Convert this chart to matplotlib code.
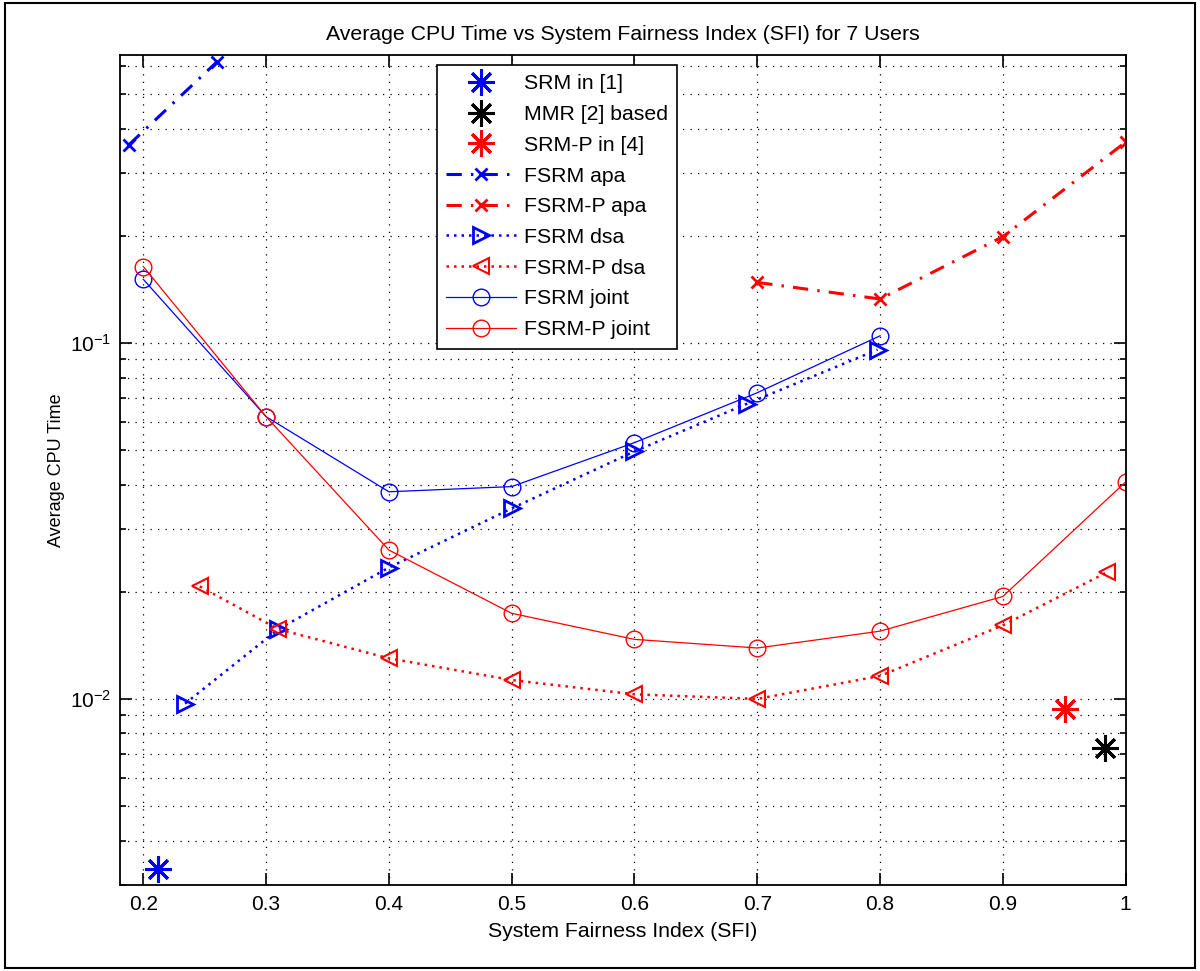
import matplotlib
matplotlib.use("Agg")
import matplotlib.pyplot as plt
from matplotlib.patches import Rectangle
from matplotlib.ticker import LogLocator, NullFormatter, FixedLocator

plt.rcParams['font.family'] = ['Liberation Sans', 'DejaVu Sans']

# ---- data ----
srm_x = [0.212]
srm_y = [0.00333]
mmr_x = [0.983]
mmr_y = [0.00729]
srmp_x = [0.951]
srmp_y = [0.00937]

fsrm_apa_x = [0.188, 0.26]
fsrm_apa_y = [0.360, 0.617]
fsrmp_apa_x = [0.70, 0.80, 0.90, 1.00]
fsrmp_apa_y = [0.148, 0.133, 0.199, 0.367]

fsrm_dsa_x = [0.234, 0.31, 0.40, 0.50, 0.60, 0.692, 0.798]
fsrm_dsa_y = [0.0097, 0.0157, 0.0234, 0.0343, 0.0496, 0.0676, 0.0958]
fsrmp_dsa_x = [0.246, 0.31, 0.40, 0.50, 0.60, 0.70, 0.80, 0.90, 0.985]
fsrmp_dsa_y = [0.0207, 0.0157, 0.0130, 0.0113, 0.0103, 0.0100, 0.0116, 0.0161, 0.0227]

fsrm_joint_x = [0.2, 0.3, 0.4, 0.5, 0.6, 0.7, 0.8]
fsrm_joint_y = [0.151, 0.0621, 0.0382, 0.0395, 0.0525, 0.0725, 0.1048]
fsrmp_joint_x = [0.2, 0.3, 0.4, 0.5, 0.6, 0.7, 0.8, 0.9, 1.0]
fsrmp_joint_y = [0.164, 0.0621, 0.0262, 0.0174, 0.0147, 0.0139, 0.0155, 0.0194, 0.0407]

x_ticks = [0.2, 0.3, 0.4, 0.5, 0.6, 0.7, 0.8, 0.9, 1.0]
x_tick_labels = ['0.2', '0.3', '0.4', '0.5', '0.6', '0.7', '0.8', '0.9', '1']

title = 'Average CPU Time vs System Fairness Index (SFI) for 7 Users'
xlabel = 'System Fairness Index (SFI)'
ylabel = 'Average CPU Time'

# ---- figure ----
fig = plt.figure(figsize=(12, 9.71), dpi=100)
ax = fig.add_axes([0.1, 0.0886, 0.838, 0.8548])

BLUE = (0, 0, 1)
RED = (1, 0, 0)
ast = (8, 2, 0)
dashdot = (0, (5, 3, 0.8, 3))
dotted = (0, (1, 2))

ax.plot(srm_x, srm_y, linestyle='none', marker=ast, ms=19, mew=2.2, color=BLUE, label='SRM in [1]')
ax.plot(mmr_x, mmr_y, linestyle='none', marker=ast, ms=19, mew=2.2, color='black', label='MMR [2] based')
ax.plot(srmp_x, srmp_y, linestyle='none', marker=ast, ms=19, mew=2.2, color=RED, label='SRM-P in [4]')
ax.plot(fsrm_apa_x, fsrm_apa_y, linestyle=dashdot, lw=2.2, marker='x', ms=9, mew=2, color=BLUE, label='FSRM apa')
ax.plot(fsrmp_apa_x, fsrmp_apa_y, linestyle=dashdot, lw=2.2, marker='x', ms=9, mew=2, color=RED, label='FSRM-P apa')
ax.plot(fsrm_dsa_x, fsrm_dsa_y, linestyle=dotted, lw=1.8, marker='>', ms=11, mew=2, mfc='none', color=BLUE, label='FSRM dsa')
ax.plot(fsrmp_dsa_x, fsrmp_dsa_y, linestyle=dotted, lw=1.8, marker='<', ms=11, mew=1.5, mfc='none', color=RED, label='FSRM-P dsa')
ax.plot(fsrm_joint_x, fsrm_joint_y, linestyle='-', lw=0.9, marker='o', ms=12, mew=1, mfc='none', color=BLUE, label='FSRM joint')
ax.plot(fsrmp_joint_x, fsrmp_joint_y, linestyle='-', lw=0.9, marker='o', ms=12, mew=1, mfc='none', color=RED, label='FSRM-P joint')

ax.set_yscale('log')
ax.set_xlim(0.181, 1.0)
ax.set_ylim(0.003, 0.645)

ax.xaxis.set_major_locator(FixedLocator(x_ticks))
ax.set_xticklabels(x_tick_labels)
ax.yaxis.set_major_locator(LogLocator(base=10, numticks=10))
ax.yaxis.set_minor_locator(LogLocator(base=10, subs=range(2, 10), numticks=20))
ax.yaxis.set_minor_formatter(NullFormatter())

grid_style = dict(color='black', linestyle=(0, (1, 5)), linewidth=0.9)
ax.grid(True, which='major', axis='both', **grid_style)
ax.grid(True, which='minor', axis='y', **grid_style)
ax.set_axisbelow(True)

ax.tick_params(which='both', direction='in', top=True, right=True, labelsize=15, width=1.2)
ax.tick_params(which='major', length=8.5)
ax.tick_params(which='minor', length=4.5)
ax.tick_params(axis='x', which='major', pad=7)
ax.tick_params(axis='y', which='major', pad=6)
for s in ax.spines.values():
    s.set_linewidth(1.3)

ax.set_title(title, fontsize=15.3, pad=11)
ax.set_xlabel(xlabel, fontsize=15.3, labelpad=6)
ax.set_ylabel(ylabel, fontsize=13, labelpad=4)

leg = ax.legend(loc='upper left', bbox_to_anchor=(0.315, 0.988), borderaxespad=0,
                fontsize=15.3, handlelength=3.3, handletextpad=0.35, labelspacing=0.55,
                borderpad=0.45, fancybox=False, framealpha=1, edgecolor='black')
leg.get_frame().set_linewidth(1.2)

# outer border of the figure
fig.patches.append(Rectangle((0.004, 0.003), 0.992, 0.994, transform=fig.transFigure,
                             fill=False, edgecolor='black', linewidth=1.5))

fig.savefig('out.png', dpi=100)
